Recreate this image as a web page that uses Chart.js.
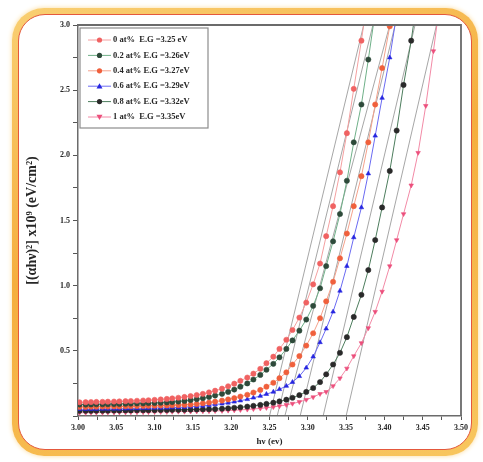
<!DOCTYPE html>
<html>
<head>
<meta charset="utf-8">
<script src="https://cdn.jsdelivr.net/npm/chart.js@4.4.1/dist/chart.umd.min.js"></script>
<style>
body { margin: 0; background: #fff; }
#frame { position: absolute; left: 12px; top: 8px; width: 466px; height: 448px; border-radius: 32px;
  background: linear-gradient(160deg, #f9cf72 0%, #f5ae3e 45%, #f8c65e 100%); box-shadow: 0 0 5px #fbdc9c; }
#inner { position: absolute; left: 6px; top: 6px; right: 6px; bottom: 6px; border: 1.5px solid #e4583c;
  border-radius: 27px; background: #fff; }
#chart { position: absolute; left: 0; top: 0; }
</style>
</head>
<body>
<div id="frame"><div id="inner"></div></div>
<canvas id="chart" width="483" height="462"></canvas>
<script>
// photon energy hv (eV)
const energy = [3.002, 3.010, 3.017, 3.024, 3.032, 3.039, 3.047, 3.054, 3.062, 3.069,
  3.077, 3.085, 3.092, 3.100, 3.108, 3.116, 3.123, 3.131, 3.139, 3.147,
  3.155, 3.163, 3.171, 3.179, 3.188, 3.196, 3.204, 3.212, 3.221, 3.229,
  3.238, 3.246, 3.255, 3.263, 3.272, 3.280, 3.289, 3.298, 3.307, 3.316,
  3.324, 3.333, 3.342, 3.351, 3.360, 3.370, 3.379, 3.388, 3.397, 3.407,
  3.416, 3.425, 3.435, 3.444, 3.454, 3.464, 3.473];

// (alpha h v)^2 for each doping level
const s0 = [0.105, 0.106, 0.107, 0.108, 0.109, 0.110, 0.111, 0.112, 0.114, 0.115,
  0.117, 0.119, 0.121, 0.124, 0.127, 0.131, 0.135, 0.140, 0.146, 0.153,
  0.161, 0.170, 0.181, 0.194, 0.210, 0.228, 0.248, 0.270, 0.295, 0.325,
  0.362, 0.405, 0.455, 0.515, 0.585, 0.660, 0.755, 0.870, 1.010, 1.170,
  1.380, 1.610, 1.870, 2.170, 2.510, 2.880, 3.250];
const s1 = [0.088, 0.088, 0.089, 0.090, 0.090, 0.091, 0.092, 0.093, 0.094, 0.095,
  0.096, 0.097, 0.099, 0.100, 0.102, 0.104, 0.107, 0.111, 0.116, 0.122,
  0.129, 0.137, 0.146, 0.157, 0.170, 0.185, 0.203, 0.225, 0.250, 0.280,
  0.315, 0.355, 0.400, 0.450, 0.515, 0.580, 0.655, 0.740, 0.845, 0.980,
  1.150, 1.340, 1.550, 1.805, 2.100, 2.390, 2.735, 3.100];
const s2 = [0.070, 0.070, 0.071, 0.071, 0.072, 0.072, 0.073, 0.073, 0.074, 0.075,
  0.076, 0.077, 0.078, 0.079, 0.080, 0.081, 0.083, 0.084, 0.086, 0.088,
  0.092, 0.097, 0.103, 0.110, 0.118, 0.127, 0.137, 0.149, 0.163, 0.180,
  0.200, 0.225, 0.255, 0.290, 0.335, 0.395, 0.460, 0.540, 0.635, 0.750,
  0.880, 1.030, 1.210, 1.400, 1.610, 1.840, 2.100, 2.390, 2.670, 2.990, 3.300];
const s3 = [0.052, 0.052, 0.053, 0.053, 0.054, 0.054, 0.055, 0.055, 0.056, 0.057,
  0.058, 0.059, 0.060, 0.061, 0.062, 0.063, 0.065, 0.066, 0.068, 0.071,
  0.074, 0.078, 0.083, 0.088, 0.094, 0.101, 0.109, 0.118, 0.128, 0.140,
  0.153, 0.168, 0.185, 0.205, 0.230, 0.260, 0.305, 0.370, 0.455, 0.565,
  0.670, 0.800, 0.960, 1.150, 1.370, 1.600, 1.860, 2.150, 2.440, 2.750, 3.080];
const s4 = [0.040, 0.040, 0.040, 0.041, 0.041, 0.041, 0.042, 0.042, 0.043, 0.043,
  0.044, 0.044, 0.045, 0.045, 0.046, 0.046, 0.047, 0.047, 0.048, 0.049,
  0.050, 0.051, 0.052, 0.053, 0.056, 0.059, 0.063, 0.067, 0.072, 0.078,
  0.085, 0.093, 0.102, 0.112, 0.125, 0.140, 0.160, 0.185, 0.215, 0.260,
  0.320, 0.395, 0.485, 0.605, 0.760, 0.930, 1.120, 1.350, 1.600, 1.880,
  2.190, 2.540, 2.880, 3.250];
const s5 = [0.025, 0.025, 0.026, 0.026, 0.026, 0.027, 0.027, 0.028, 0.028, 0.029,
  0.029, 0.030, 0.030, 0.031, 0.032, 0.032, 0.033, 0.034, 0.034, 0.035,
  0.036, 0.037, 0.038, 0.039, 0.040, 0.042, 0.044, 0.047, 0.050, 0.054,
  0.058, 0.063, 0.069, 0.076, 0.085, 0.095, 0.108, 0.125, 0.145, 0.170,
  0.185, 0.230, 0.290, 0.365, 0.460, 0.560, 0.675, 0.800, 0.955, 1.150,
  1.350, 1.550, 1.770, 2.020, 2.380, 2.800, 3.200];

// band gap intercepts and where each tangent leaves the top of the plot
const bandGap = [3.25, 3.26, 3.27, 3.29, 3.32, 3.35];
const tangentTop = [3.373, 3.385, 3.407, 3.414, 3.440, 3.468];

const legendLabels = ['0 at%  E.G =3.25 eV', '0.2 at% E.G =3.26eV', '0.4 at% E.G =3.27eV',
  '0.6 at% E.G =3.29eV', '0.8 at% E.G =3.32eV', '1 at%  E.G =3.35eV'];

const yTicks = [0.5, 1.0, 1.5, 2.0, 2.5, 3.0];

const series = [s0, s1, s2, s3, s4, s5];
const pointColors = ['#f06262', '#2e4a3a', '#f0603c', '#2626e0', '#2a2a2a', '#ec4f7c'];
const lineColors = ['#f4a0a0', '#6fb088', '#f4a28c', '#6a6af2', '#4d7d5d', '#f28aa6'];
const shapes = ['circle', 'circle', 'circle', 'triangle', 'circle', 'triangle'];
const rotations = [0, 0, 0, 0, 0, 180];

function toPoints(values) {
    return values.map((v, i) => ({ x: energy[i], y: v }));
}

const dataSets = series.map((s, i) => ({
    label: legendLabels[i],
    data: toPoints(s),
    showLine: true,
    borderColor: lineColors[i],
    borderWidth: 1,
    pointStyle: shapes[i],
    pointRotation: rotations[i],
    pointRadius: 2.6,
    pointBackgroundColor: pointColors[i],
    pointBorderColor: pointColors[i],
    pointBorderWidth: 0.6,
    order: 1
}));

bandGap.forEach((eg, i) => {
    dataSets.push({
        label: 'tangent ' + i,
        data: [{ x: eg, y: 0 }, { x: tangentTop[i], y: 3.0 }],
        showLine: true,
        borderColor: '#6a6a6a',
        borderWidth: 0.6,
        pointRadius: 0,
        order: 2
    });
});

function drawMarker(ctx, shape, rot, x, y, color) {
    ctx.fillStyle = color;
    ctx.beginPath();
    if (shape === 'circle') {
        ctx.arc(x, y, 2.6, 0, Math.PI * 2);
    } else {
        const d = rot ? -1 : 1;
        ctx.moveTo(x, y - 3 * d);
        ctx.lineTo(x + 3, y + 2.2 * d);
        ctx.lineTo(x - 3, y + 2.2 * d);
        ctx.closePath();
    }
    ctx.fill();
}

const legendBox = {
    id: 'legendBox',
    afterDraw(chart) {
        const { ctx, chartArea: a } = chart;
        const x0 = a.left + 2, y0 = a.top + 3;
        ctx.save();
        ctx.strokeStyle = '#8c8c8c';
        ctx.lineWidth = 1.2;
        ctx.strokeRect(x0, y0, 128, 100);
        ctx.font = 'bold 8.5px "Liberation Serif"';
        ctx.textBaseline = 'middle';
        legendLabels.forEach((txt, i) => {
            const y = y0 + 12 + i * 15.4;
            ctx.strokeStyle = lineColors[i];
            ctx.lineWidth = 1;
            ctx.beginPath();
            ctx.moveTo(x0 + 8, y);
            ctx.lineTo(x0 + 31, y);
            ctx.stroke();
            drawMarker(ctx, shapes[i], rotations[i], x0 + 19.5, y, pointColors[i]);
            ctx.fillStyle = '#262626';
            ctx.fillText(txt, x0 + 33, y);
        });
        ctx.restore();
    }
};

const plotFrame = {
    id: 'plotFrame',
    afterDraw(chart) {
        const { ctx, chartArea: a } = chart;
        ctx.save();
        ctx.strokeStyle = '#6b6b6b';
        ctx.lineWidth = 1.8;
        ctx.beginPath();
        ctx.moveTo(a.left, a.top);
        ctx.lineTo(a.right, a.top);
        ctx.lineTo(a.right, a.bottom);
        ctx.stroke();
        ctx.restore();
    }
};

Chart.defaults.font.family = '"Liberation Serif", serif';
Chart.defaults.color = '#262626';

new Chart(document.getElementById('chart'), {
    type: 'scatter',
    data: { datasets: dataSets },
    options: {
        responsive: false,
        animation: false,
        devicePixelRatio: 1,
        layout: { padding: { left: 18, top: 25, right: 22, bottom: 0 } },
        plugins: { legend: { display: false }, tooltip: { enabled: false } },
        scales: {
            x: {
                type: 'linear',
                min: 3.0,
                max: 3.5,
                afterFit: s => { s.height = 46; },
                ticks: {
                    stepSize: 0.025,
                    autoSkip: false,
                    maxRotation: 0,
                    padding: 3,
                    font: { size: 8, weight: 'bold' },
                    callback: v => {
                        const m = Math.round(v * 1000);
                        return m % 50 === 0 ? (m / 1000).toFixed(2) : '';
                    }
                },
                grid: { drawOnChartArea: false, tickLength: 4, tickColor: '#555' },
                border: { color: '#6b6b6b', width: 1.5 },
                title: { display: true, text: 'hν (ev)', font: { size: 9, weight: 'bold' }, padding: { top: 0, bottom: 15 } }
            },
            y: {
                min: 0,
                max: 3.0,
                afterFit: s => { s.width = 60; },
                ticks: {
                    stepSize: 0.25,
                    autoSkip: false,
                    padding: 3,
                    font: { size: 8, weight: 'bold' },
                    callback: v => {
                        const m = Math.round(v * 100);
                        return yTicks.includes(m / 100) ? (m / 100).toFixed(1) : '';
                    }
                },
                grid: { drawOnChartArea: false, tickLength: 5, tickColor: '#555' },
                border: { color: '#6b6b6b', width: 1.5 },
                title: { display: true, text: '[(αhν)²] x10⁹ (eV/cm²)', font: { size: 14, weight: 'bold' }, padding: { top: 6, bottom: 0 } }
            }
        }
    },
    plugins: [legendBox, plotFrame]
});
</script>
</body>
</html>
